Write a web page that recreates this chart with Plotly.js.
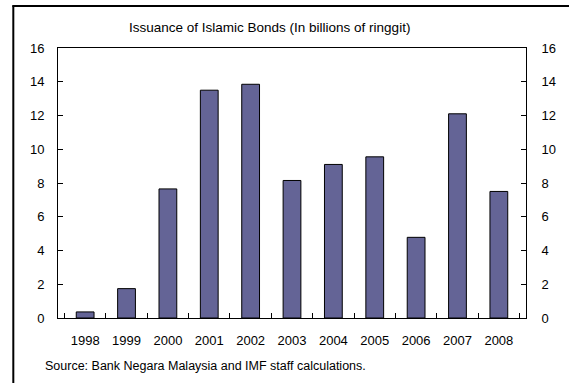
<!DOCTYPE html>
<html>
<head>
<meta charset="utf-8">
<script src="https://cdn.plot.ly/plotly-3.0.1.min.js"></script>
<style>html,body{margin:0;padding:0;background:#fff;}#chart{width:569px;height:383px;}</style>
</head>
<body>
<div id="chart"></div>
<script>
const years = ["1998","1999","2000","2001","2002","2003","2004","2005","2006","2007","2008"];
const issuance = [0.36, 1.74, 7.65, 13.5, 13.85, 8.15, 9.1, 9.55, 4.78, 12.1, 7.5];
const yTicks = [0, 2, 4, 6, 8, 10, 12, 14, 16];
const titleText = "Issuance of Islamic Bonds (In billions of ringgit)";
const sourceText = "Source: Bank Negara Malaysia and IMF staff calculations.";

const fam = "Liberation Sans, Arial, sans-serif";
const font = {family: fam, size: 13, color: "#000"};

const traces = [
  {
    type: "bar", x: years, y: issuance,
    marker: {color: "#646496", line: {color: "#000", width: 1}},
    hoverinfo: "x+y", showlegend: false
  },
  {
    type: "scatter", mode: "markers", x: years, y: issuance, yaxis: "y2",
    marker: {opacity: 0}, hoverinfo: "skip", showlegend: false
  }
];

const layout = {
  width: 569, height: 383,
  margin: {l: 58, r: 43, t: 48, b: 65},
  paper_bgcolor: "#fff", plot_bgcolor: "#fff",
  font: font,
  bargap: 0.57,
  xaxis: {
    type: "category", showgrid: false, zeroline: false,
    showline: true, linecolor: "#000", linewidth: 1, mirror: true,
    ticks: "inside", tickson: "boundaries", ticklen: 5, tickcolor: "#000",
    tickfont: font, ticklabelstandoff: 10
  },
  yaxis: {
    range: [0, 16], tickvals: yTicks, showgrid: false, zeroline: false,
    showline: true, linecolor: "#000", linewidth: 1, mirror: true,
    ticks: "inside", ticklen: 5, tickcolor: "#000", tickfont: font,
    ticklabelstandoff: 10
  },
  yaxis2: {
    overlaying: "y", side: "right", range: [0, 16], tickvals: yTicks,
    showgrid: false, zeroline: false, showline: true, linecolor: "#000", linewidth: 1,
    ticks: "inside", ticklen: 5, tickcolor: "#000", tickfont: font,
    ticklabelstandoff: 12
  },
  annotations: [
    {text: titleText, xref: "paper", yref: "paper", x: 0.452, y: 1.0, yshift: 21,
     xanchor: "center", yanchor: "middle", showarrow: false, font: {family: fam, size: 13.5, color: "#000"}},
    {text: sourceText, xref: "paper", yref: "paper", x: -0.032, y: 0, yshift: -48,
     xanchor: "left", yanchor: "middle", showarrow: false,
     font: {family: fam, size: 12.5, color: "#000"}}
  ],
  shapes: [
    {type: "line", xref: "paper", yref: "paper", x0: -0.0955, x1: -0.0955, y0: 1.157, y1: -0.3,
     line: {color: "#000", width: 2}},
    {type: "line", xref: "paper", yref: "paper", x0: -0.0975, x1: 1.2, y0: 1.1555, y1: 1.1555,
     line: {color: "#000", width: 2}}
  ]
};

Plotly.newPlot("chart", traces, layout, {displayModeBar: false, staticPlot: true});
</script>
</body>
</html>
